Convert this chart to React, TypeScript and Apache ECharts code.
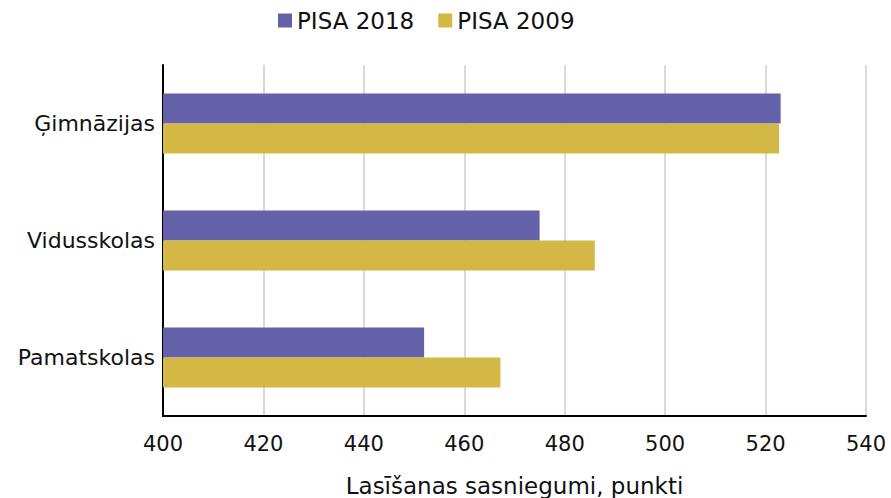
import React, { useEffect, useRef } from "react";
import * as echarts from "echarts";

const categories = ["Ģimnāzijas", "Vidusskolas", "Pamatskolas"];
const pisa2018 = [523, 475, 452];
const pisa2009 = [522.7, 486, 467.2];
const seriesNames = ["PISA 2018", "PISA 2009"];
const axisTitle = "Lasīšanas sasniegumi, punkti";

export default function App() {
  const ref = useRef<HTMLDivElement>(null);
  useEffect(() => {
    document.body.style.margin = "0";
    document.documentElement.style.overflow = "hidden";
    document.body.style.overflow = "hidden";
    const chart = echarts.init(ref.current!, null, { renderer: "svg" });
    const font = "'DejaVu Sans', 'Noto Sans', sans-serif";
    chart.setOption({
      animation: false,
      textStyle: { fontFamily: font },
      legend: {
        top: 9,
        left: 278,
        padding: 0,
        icon: "rect",
        itemWidth: 14,
        itemHeight: 14,
        itemGap: 24,
        textStyle: { fontSize: 23, color: "#111", fontFamily: font },
        data: seriesNames,
      },
      grid: { left: 163, right: 25, top: 65, bottom: 82, outerBoundsMode: "none" },
      xAxis: {
        type: "value",
        min: 400,
        max: 540,
        interval: 20,
        name: axisTitle,
        nameLocation: "middle",
        nameGap: 58,
        nameTextStyle: { fontSize: 23, color: "#111", fontFamily: font },
        axisLine: { show: true, lineStyle: { color: "#000", width: 2 } },
        axisTick: { show: false },
        axisLabel: { fontSize: 21, color: "#111", margin: 17, fontFamily: font },
        splitLine: { show: true, lineStyle: { color: "#d9d9d9", width: 2 } },
      },
      yAxis: {
        type: "category",
        inverse: true,
        data: categories,
        axisLine: { show: true, lineStyle: { color: "#000", width: 2 } },
        axisTick: { show: false },
        axisLabel: { fontSize: 22, color: "#111", margin: 8, fontFamily: font },
      },
      series: [
        {
          name: seriesNames[0],
          type: "bar",
          data: pisa2018,
          barWidth: 30,
          barGap: "0%",
          itemStyle: { color: "#6461a9" },
        },
        {
          name: seriesNames[1],
          type: "bar",
          data: pisa2009,
          barWidth: 30,
          barGap: "0%",
          itemStyle: { color: "#d4b846" },
        },
      ],
    });
    return () => chart.dispose();
  }, []);
  return (
    <div
      ref={ref}
      style={{ position: "absolute", left: 0, top: 0, width: 891, height: 498, overflow: "hidden" }}
    />
  );
}
